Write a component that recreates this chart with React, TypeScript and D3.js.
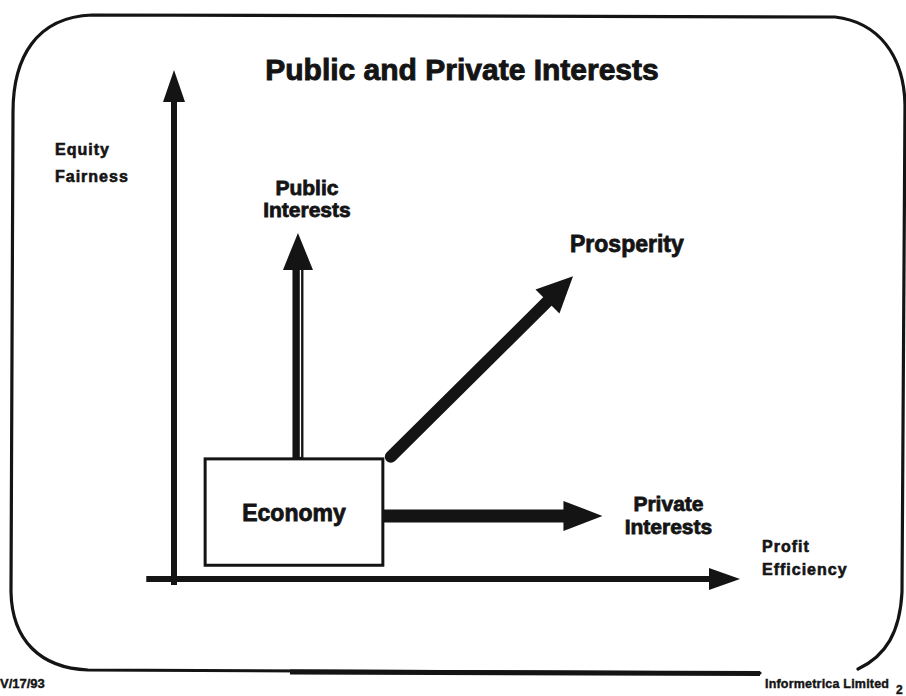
import React from 'react';
import * as d3 from 'd3';

const W = 906;
const H = 696;

// diagram values, in axis units (0..100 on both axes)
const titleText = 'Public and Private Interests';
const yAxisLabel = ['Equity', 'Fairness'];
const xAxisLabel = ['Profit', 'Efficiency'];
const xAxisExtent = [-4.9, 100];
const yAxisExtent = [-1.2, 100];
const boxLabel = 'Economy';
const boxX = [5.5, 36.9];
const boxY = [2.7, 23.6];
const vectorNames = [['Public', 'Interests'], ['Prosperity'], ['Private', 'Interests']];
const vectorFrom = [[21.9, 23.6], [38.3, 24.0], [36.9, 12.4]];
const vectorTo = [[21.9, 68.0], [70.5, 59.5], [75.7, 12.4]];
const footerDate = 'V/17/93';
const footerOrg = 'Informetrica Limited';
const pageNo = '2';

const INK = '#141414';
const FONT = '"Liberation Sans", Arial, Helvetica, sans-serif';

// shaft width, head length, head half width
const arrowStyle = [
  { w: 11, hl: 37, hw: 15, cap: 'butt', split: true },
  { w: 12, hl: 36, hw: 17, cap: 'round', split: false },
  { w: 13, hl: 39, hw: 15, cap: 'butt', split: false },
];

const arrowParts = (x0, y0, x1, y1, hl, hw) => {
  const dx = x1 - x0, dy = y1 - y0;
  const len = Math.sqrt(dx * dx + dy * dy);
  const ux = dx / len, uy = dy / len;
  const bx = x1 - ux * hl, by = y1 - uy * hl;
  const head = d3.path();
  head.moveTo(x1, y1);
  head.lineTo(bx - uy * hw, by + ux * hw);
  head.lineTo(bx + uy * hw, by - ux * hw);
  head.closePath();
  return { sx: bx + ux * 2, sy: by + uy * 2, head: head.toString() };
};

const App = () => {
  const x = d3.scaleLinear().domain([0, 100]).range([174, 740]);
  const y = d3.scaleLinear().domain([0, 100]).range([579, 70]);

  // hand drawn slide frame
  const frame = d3.path();
  frame.moveTo(760, 673);
  frame.lineTo(88, 670);
  frame.bezierCurveTo(40, 668, 12, 640, 11, 592);
  frame.lineTo(13, 112);
  frame.bezierCurveTo(13, 58, 36, 17, 92, 15);
  frame.lineTo(835, 17);
  frame.bezierCurveTo(878, 22, 904, 55, 905, 105);
  frame.lineTo(902, 592);
  frame.bezierCurveTo(900, 632, 886, 656, 858, 669);

  const xAx = arrowParts(x(xAxisExtent[0]), y(0), x(xAxisExtent[1]), y(0), 31, 11);
  const yAx = arrowParts(x(0), y(yAxisExtent[0]), x(0), y(yAxisExtent[1]), 32, 11);

  const bx0 = x(boxX[0]), bx1 = x(boxX[1]);
  const by0 = y(boxY[1]), by1 = y(boxY[0]);

  const tips = vectorTo.map(d => [x(d[0]), y(d[1])]);

  return (
    <svg width={W} height={H} style={{ position: 'absolute', left: 0, top: 0, background: '#fff' }}
      fontFamily={FONT} fontWeight="bold" fill={INK}>
      <rect width={W} height={H} fill="#fff" />
      <path d={frame.toString()} fill="none" stroke={INK} strokeWidth={3.2} strokeLinecap="round" />
      <line x1={290} y1={672} x2={760} y2={673.5} stroke={INK} strokeWidth={5} />

      <text x={462} y={80} textAnchor="middle" fontSize={30} stroke={INK} strokeWidth={0.9}>{titleText}</text>

      {/* axes */}
      <line x1={x(xAxisExtent[0])} y1={y(0)} x2={xAx.sx} y2={xAx.sy} stroke={INK} strokeWidth={6} />
      <path d={xAx.head} fill={INK} />
      <line x1={x(0)} y1={y(yAxisExtent[0])} x2={yAx.sx} y2={yAx.sy} stroke={INK} strokeWidth={6} />
      <path d={yAx.head} fill={INK} />

      <g fontSize={16} letterSpacing={1} stroke={INK} strokeWidth={0.6}>
        {yAxisLabel.map((t, i) => (
          <text key={t} x={x(0) - 119} y={y(100) + 85 + i * 27}>{t}</text>
        ))}
        {xAxisLabel.map((t, i) => (
          <text key={t} x={x(100) + 22} y={y(0) - 27 + i * 23}>{t}</text>
        ))}
      </g>

      {/* vectors */}
      {vectorFrom.map((d, i) => {
        const s = arrowStyle[i];
        const x0 = x(d[0]), y0 = y(d[1]);
        const [x1, y1] = tips[i];
        const a = arrowParts(x0, y0, x1, y1, s.hl, s.hw);
        return (
          <g key={i}>
            <line x1={x0} y1={y0} x2={a.sx} y2={a.sy} stroke={INK} strokeWidth={s.w} strokeLinecap={s.cap} />
            {s.split && (
              <line x1={x0 + 2.5} y1={y0 - 2} x2={a.sx + 2.5} y2={a.sy + 2} stroke="#fff" strokeWidth={1.3} />
            )}
            <path d={a.head} fill={INK} />
          </g>
        );
      })}

      {/* economy box */}
      <rect x={bx0} y={by0} width={bx1 - bx0} height={by1 - by0} fill="#fff" stroke={INK} strokeWidth={3} />
      <text x={(bx0 + bx1) / 2} y={(by0 + by1) / 2 + 9} textAnchor="middle" fontSize={23}
        stroke={INK} strokeWidth={0.8}>{boxLabel}</text>

      {/* vector labels */}
      <g fontSize={21} stroke={INK} strokeWidth={0.8}>
        {vectorNames[0].map((t, i) => (
          <text key={t} x={tips[0][0] + 9} y={tips[0][1] - 38 + i * 22} textAnchor="middle">{t}</text>
        ))}
        <text x={tips[1][0] - 3} y={tips[1][1] - 24} fontSize={23}>{vectorNames[1][0]}</text>
        {vectorNames[2].map((t, i) => (
          <text key={t} x={tips[2][0] + 66} y={tips[2][1] - 5 + i * 23} textAnchor="middle">{t}</text>
        ))}
      </g>

      {/* footer */}
      <g stroke={INK} strokeWidth={0.4}>
        <text x={0} y={688} fontSize={13}>{footerDate}</text>
        <text x={765} y={688} fontSize={12.5} letterSpacing={0.2}>{footerOrg}</text>
        <text x={896} y={694} fontSize={12}>{pageNo}</text>
      </g>
    </svg>
  );
};

export default App;
